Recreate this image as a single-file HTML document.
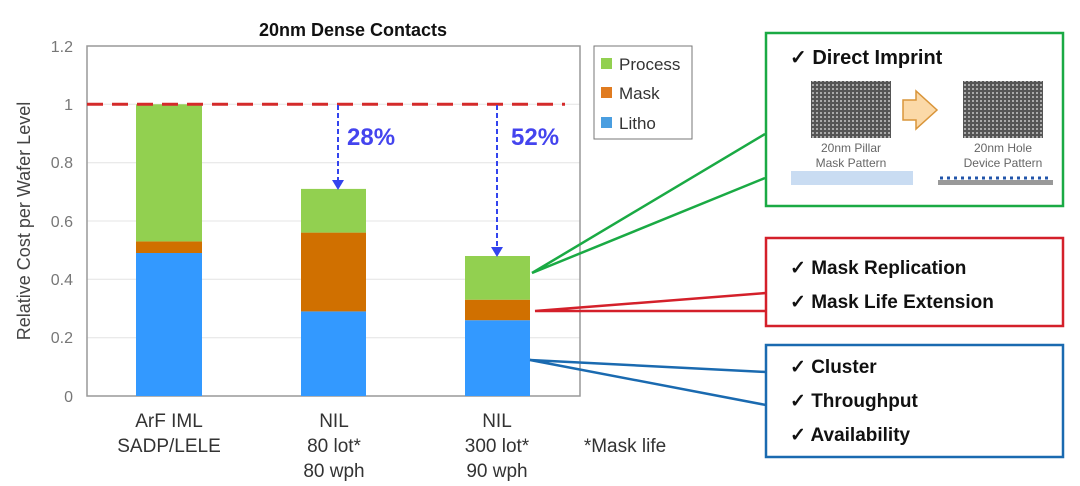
<!DOCTYPE html>
<html><head><style>
html,body{margin:0;padding:0;background:#fff;}
svg{display:block;font-family:"Liberation Sans",sans-serif;}
</style></head><body>
<svg width="1080" height="486" viewBox="0 0 1080 486">
<defs><pattern id="grid" width="4" height="4" patternUnits="userSpaceOnUse"><rect width="4" height="4" fill="#555"/><rect x="0" y="0" width="2" height="2" fill="#aaa"/></pattern></defs>
<!-- title -->
<text x="353" y="36" font-size="18" font-weight="bold" text-anchor="middle" fill="#111">20nm Dense Contacts</text>
<!-- gridlines -->
<g stroke="#e4e4e4" stroke-width="1">
<line x1="87" y1="162.7" x2="580" y2="162.7"/><line x1="87" y1="221" x2="580" y2="221"/>
<line x1="87" y1="279.3" x2="580" y2="279.3"/><line x1="87" y1="337.7" x2="580" y2="337.7"/>
<line x1="87" y1="104.3" x2="580" y2="104.3"/>
</g>
<rect x="87" y="46" width="493" height="350" fill="none" stroke="#999" stroke-width="1.5"/>
<!-- y ticks -->
<g font-size="16" fill="#777" text-anchor="end">
<text x="73" y="402">0</text><text x="73" y="343">0.2</text><text x="73" y="285">0.4</text>
<text x="73" y="227">0.6</text><text x="73" y="168">0.8</text><text x="73" y="110">1</text><text x="73" y="52">1.2</text>
</g>
<text transform="translate(30,221) rotate(-90)" font-size="18" fill="#444" text-anchor="middle">Relative Cost per Wafer Level</text>
<!-- bars -->
<rect x="136" y="253" width="66" height="143" fill="#3399ff"/>
<rect x="136" y="241.4" width="66" height="11.6" fill="#d07000"/>
<rect x="136" y="104.3" width="66" height="137.1" fill="#92d050"/>
<rect x="301" y="311.4" width="65" height="84.6" fill="#3399ff"/>
<rect x="301" y="232.6" width="65" height="78.8" fill="#d07000"/>
<rect x="301" y="188.9" width="65" height="43.7" fill="#92d050"/>
<rect x="465" y="320.2" width="65" height="75.8" fill="#3399ff"/>
<rect x="465" y="299.7" width="65" height="20.5" fill="#d07000"/>
<rect x="465" y="256" width="65" height="43.7" fill="#92d050"/>
<!-- dashed line -->
<line x1="87" y1="104.3" x2="565" y2="104.3" stroke="#d42a2a" stroke-width="3" stroke-dasharray="16,9"/>
<!-- arrows -->
<g stroke="#3344ee" stroke-width="2" stroke-dasharray="5,3" fill="none">
<line x1="338" y1="105" x2="338" y2="183"/><line x1="497" y1="105" x2="497" y2="250"/>
</g>
<polygon points="332,180 344,180 338,190" fill="#3344ee"/>
<polygon points="491,247 503,247 497,257" fill="#3344ee"/>
<text x="347" y="145" font-size="24" font-weight="bold" fill="#4444ee">28%</text>
<text x="511" y="145" font-size="24" font-weight="bold" fill="#4444ee">52%</text>
<!-- legend -->
<rect x="594" y="46" width="98" height="93" fill="#fff" stroke="#777" stroke-width="1"/>
<rect x="601" y="58" width="11" height="11" fill="#92d050"/><text x="619" y="70" font-size="17" fill="#333">Process</text>
<rect x="601" y="87" width="11" height="11" fill="#e07b20"/><text x="619" y="99" font-size="17" fill="#333">Mask</text>
<rect x="601" y="117" width="11" height="11" fill="#4a9ee0"/><text x="619" y="129" font-size="17" fill="#333">Litho</text>
<!-- x labels -->
<g font-size="19" fill="#333" text-anchor="middle">
<text x="169" y="427">ArF IML</text><text x="169" y="452">SADP/LELE</text>
<text x="334" y="427">NIL</text><text x="334" y="452">80 lot*</text><text x="334" y="477">80 wph</text>
<text x="497" y="427">NIL</text><text x="497" y="452">300 lot*</text><text x="497" y="477">90 wph</text>
<text x="625" y="452">*Mask life</text>
</g>
<!-- connectors -->
<g fill="none" stroke-width="2.5">
<polyline points="765,134 532,273 765,178" stroke="#1aaa44"/>
<polyline points="766,293 535,311 766,311" stroke="#d4202a"/>
<polyline points="766,372 530,360 766,405" stroke="#1a6ab0"/>
</g>
<!-- green box -->
<rect x="766" y="33" width="297" height="173" fill="#fff" stroke="#1aaa44" stroke-width="2.5"/>
<text x="790" y="64" font-size="20" font-weight="bold" fill="#111">✓  Direct Imprint</text>
<rect x="811" y="81" width="80" height="57" fill="url(#grid)"/>
<rect x="963" y="81" width="80" height="57" fill="url(#grid)"/>
<polygon points="903,100 916,100 916,91 937,110 916,129 916,120 903,120" fill="#fbd9a8" stroke="#d9953a" stroke-width="1.5"/>
<g font-size="12" fill="#666" text-anchor="middle">
<text x="851" y="152">20nm Pillar</text><text x="851" y="167">Mask Pattern</text>
<text x="1003" y="152">20nm Hole</text><text x="1003" y="167">Device Pattern</text>
</g>
<rect x="791" y="171" width="122" height="14" fill="#c9dcf2"/>
<rect x="938" y="180" width="115" height="5" fill="#999"/>
<line x1="940" y1="178" x2="1052" y2="178" stroke="#2255aa" stroke-width="3" stroke-dasharray="3,4"/>
<!-- red box -->
<rect x="766" y="238" width="297" height="88" fill="#fff" stroke="#d4202a" stroke-width="2.5"/>
<text x="790" y="274" font-size="19" font-weight="bold" fill="#111">✓  Mask Replication</text>
<text x="790" y="308" font-size="19" font-weight="bold" fill="#111">✓  Mask Life Extension</text>
<!-- blue box -->
<rect x="766" y="345" width="297" height="112" fill="#fff" stroke="#1a6ab0" stroke-width="2.5"/>
<text x="790" y="373" font-size="19" font-weight="bold" fill="#111">✓  Cluster</text>
<text x="790" y="407" font-size="19" font-weight="bold" fill="#111">✓  Throughput</text>
<text x="790" y="441" font-size="19" font-weight="bold" fill="#111">✓  Availability</text>
</svg>
</body></html>
